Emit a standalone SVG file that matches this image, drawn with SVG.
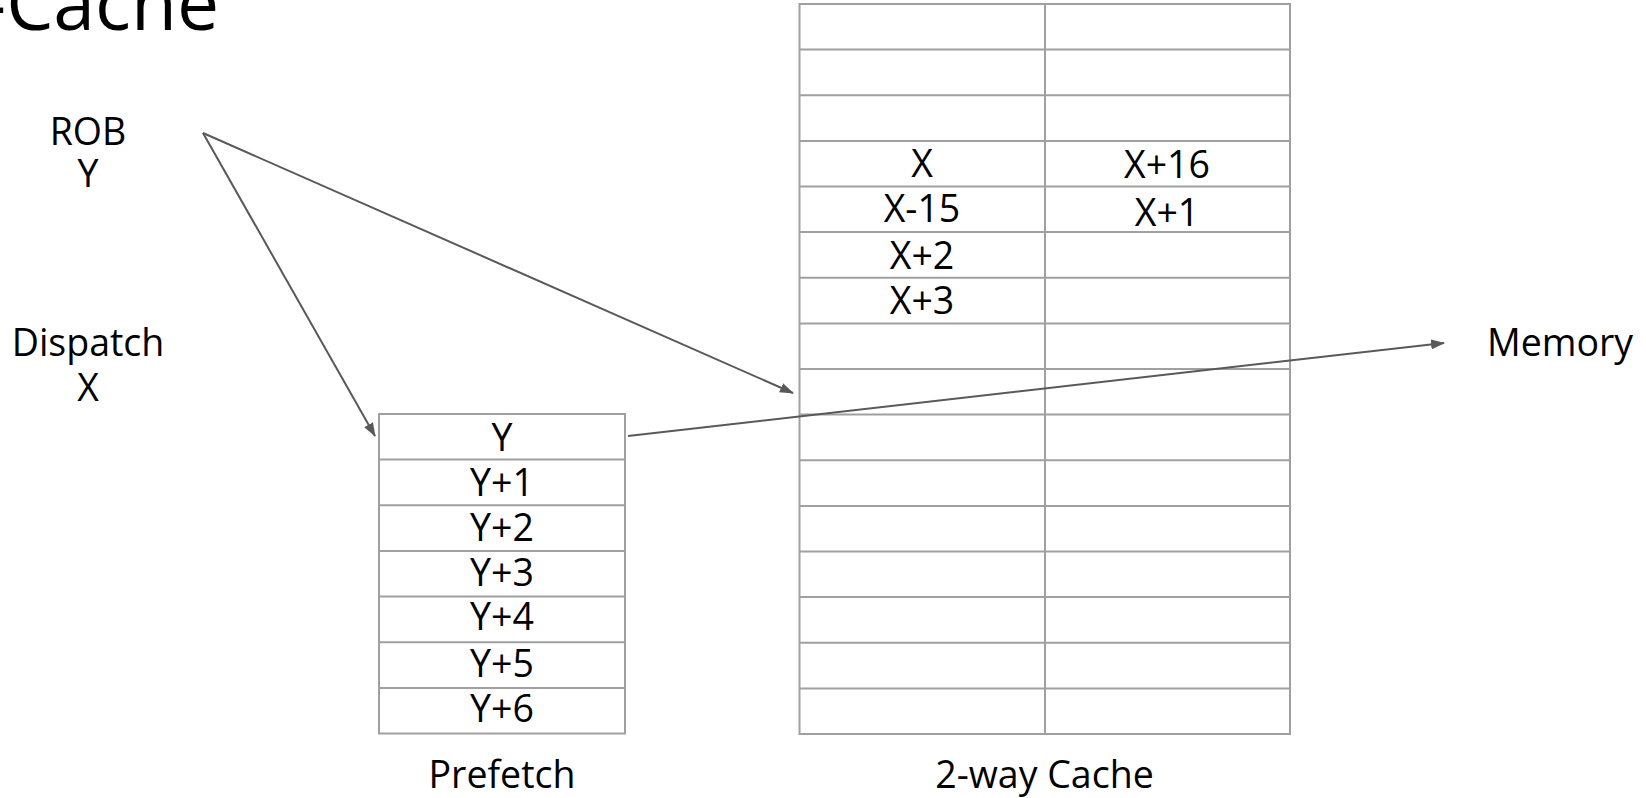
<svg xmlns="http://www.w3.org/2000/svg" width="1646" height="798" viewBox="0 0 1646 798">
<style>
text{font-family:"Open Sans","Noto Sans","Liberation Sans",sans-serif;fill:#000;text-anchor:middle;font-size:37.5px}
.title{font-size:75px;text-anchor:start}
.grid{fill:none;stroke:#a0a0a0;stroke-width:2}
.conn{stroke:#595959;stroke-width:2;fill:none;marker-end:url(#ah)}
</style>
<defs>
<marker id="ah" markerUnits="userSpaceOnUse" markerWidth="14" markerHeight="10" refX="13" refY="5" orient="auto">
<path d="M0,0 L14,5 L0,10 Z" fill="#595959"/>
</marker>
</defs>
<rect width="1646" height="798" fill="#fff"/>
<text class="title" x="-18" y="30">-Cache</text>
<g id="rob"><text x="88" y="145">ROB</text><text x="88" y="187">Y</text></g>
<g id="dispatch"><text x="88" y="356">Dispatch</text><text x="88" y="401">X</text></g>
<g id="memory"><text x="1560" y="356">Memory</text></g>
<g id="prefetch">
<rect class="grid" x="379" y="414" width="246" height="319.5"/>
<path class="grid" d="M379,459.6H625M379,505.3H625M379,550.9H625M379,596.6H625M379,642.2H625M379,687.9H625"/>
<text x="502" y="451">Y</text>
<text x="502" y="496">Y+1</text>
<text x="502" y="540.5">Y+2</text>
<text x="502" y="585.5">Y+3</text>
<text x="502" y="629.7">Y+4</text>
<text x="502" y="677">Y+5</text>
<text x="502" y="722">Y+6</text>
<text x="502" y="788">Prefetch</text>
</g>
<g id="cache">
<rect class="grid" x="799.5" y="4" width="490.5" height="730"/>
<path class="grid" d="M1045,4V734M799.5,49.6H1290M799.5,95.3H1290M799.5,140.9H1290M799.5,186.5H1290M799.5,232.1H1290M799.5,277.8H1290M799.5,323.4H1290M799.5,369H1290M799.5,414.6H1290M799.5,460.3H1290M799.5,505.9H1290M799.5,551.5H1290M799.5,597.1H1290M799.5,642.8H1290M799.5,688.4H1290"/>
<text x="922" y="177">X</text>
<text x="922" y="222">X-15</text>
<text x="922" y="269">X+2</text>
<text x="922" y="314">X+3</text>
<text x="1167" y="177.5">X+16</text>
<text x="1167" y="225.5">X+1</text>
<text x="1044.5" y="788">2-way Cache</text>
</g>
<g id="connectors">
<line class="conn" x1="203" y1="133" x2="375" y2="436"/>
<line class="conn" x1="203" y1="133" x2="793" y2="393"/>
<line class="conn" x1="628" y1="436" x2="1444" y2="343"/>
</g>
</svg>
